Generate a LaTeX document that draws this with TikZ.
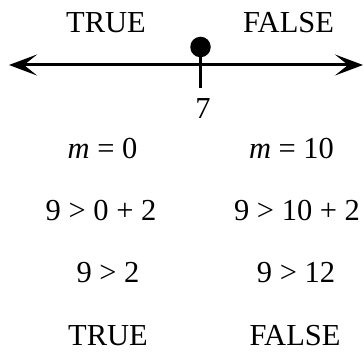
\documentclass[tikz,border=0pt]{standalone}
\usepackage{fontspec}
\setmainfont{Liberation Serif}
\usepackage{tikz}
\usetikzlibrary{positioning, arrows.meta}

\begin{document}
\begin{tikzpicture}[
    x=1pt, y=-1pt,
    barb/.tip={Stealth[length=28pt, width=21pt, inset=13pt]},
    numline/.style={arrows={barb-barb}, line width=3pt},
    dot/.style={circle, fill=black, inner sep=0pt, minimum size=20.5pt},
    lbl/.style={anchor=base, inner sep=0pt, font=\fontsize{30.5pt}{36pt}\selectfont}
]
\useasboundingbox (0,0) rectangle (364,352);

% Number line
\coordinate (lend) at (9,65);
\coordinate (rend) at (363,65);
\draw[numline] (lend) -- (rend);

% Point at 7 with its tick
\node[dot] (pt) at (200.5,47) {};
\coordinate (tickend) at (200.5,88);
\draw[line width=3pt] (pt.center) -- (tickend);
\node[lbl] (seven) at (203,119) {7};

% Sides of the line
\node[lbl] (toptrue) at (106,33) {TRUE};
\node[lbl] (topfalse) at (288.5,33) {FALSE};

% Test m = 0
\node[lbl] (lmval) at (102.5,159) {\textit{m} = 0};
\node[lbl] (lsub) at (101,221) {9 > 0 + 2};
\node[lbl] (lsimp) at (108,283) {9 > 2};
\node[lbl] (lres) at (108,345) {TRUE};

% Test m = 10
\node[lbl] (rmval) at (291.5,159) {\textit{m} = 10};
\node[lbl] (rsub) at (297,221) {9 > 10 + 2};
\node[lbl] (rsimp) at (296,283) {9 > 12};
\node[lbl] (rres) at (295,345) {FALSE};

\end{tikzpicture}
\end{document}
